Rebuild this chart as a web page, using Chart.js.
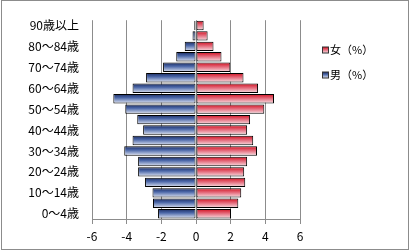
<!DOCTYPE html>
<html><head><meta charset="utf-8">
<script src="https://cdn.jsdelivr.net/npm/chart.js@4"></script>
<style>html,body{margin:0;padding:0;background:#fff}#w{width:410px;height:252px}</style>
</head><body><div id="w"><canvas id="c" width="410" height="252"></canvas></div>
<script>
const categories = ['0～4歳','5～9歳','10～14歳','15～19歳','20～24歳','25～29歳','30～34歳','35～39歳','40～44歳','45～49歳','50～54歳','55～59歳','60～64歳','65～69歳','70～74歳','75～79歳','80～84歳','85～89歳','90歳以上'];
const femaleValues = [2.02, 2.44, 2.61, 2.84, 2.78, 2.95, 3.52, 3.30, 2.95, 3.12, 3.94, 4.50, 3.58, 2.74, 1.98, 1.47, 1.01, 0.67, 0.44];
const maleValues = [2.19, 2.48, 2.51, 2.94, 3.34, 3.34, 4.14, 3.66, 3.05, 3.39, 4.08, 4.77, 3.66, 2.88, 1.90, 1.14, 0.65, 0.20, 0.10];
const xTicks = [-6, -4, -2, 0, 2, 4, 6];
const seriesNames = ['女（%）', '男（%）'];

const FONT = '"Noto Sans CJK JP", "Noto Sans", sans-serif';
const femaleStops = [[0,'#d10f1f'],[0.45,'#e4697a'],[1,'#f8e2e6']];
const maleStops = [[0,'#1b2b60'],[0.4,'#4b67a8'],[1,'#e2e7f4']];

function grad(stops, solid) {
  return function(ctx) {
    const chart = ctx.chart;
    if (!chart.chartArea || ctx.dataIndex === undefined || !chart.scales.y) return solid;
    const y = chart.scales.y;
    const yc = y.getPixelForValue(ctx.dataIndex);
    const h = chart.chartArea.height / categories.length * 0.9;
    const g = chart.ctx.createLinearGradient(0, yc - h/2, 0, yc + h/2);
    stops.forEach(s => g.addColorStop(s[0], s[1]));
    return g;
  };
}

const extras = {
  id: 'extras',
  afterDraw(chart) {
    const c = chart.ctx;
    c.save();
    // legend
    const items = [[seriesNames[0], femaleStops, 50], [seriesNames[1], maleStops, 75]];
    items.forEach(([txt, stops, yc]) => {
      const g = c.createLinearGradient(0, yc - 3, 0, yc + 3);
      stops.forEach(s => g.addColorStop(s[0], s[1]));
      c.fillStyle = g;
      c.fillRect(322.5, yc - 3, 6, 6);
      c.strokeStyle = '#333';
      c.lineWidth = 1;
      c.strokeRect(322.5, yc - 3, 6, 6);
      c.fillStyle = '#000';
      c.font = '11px ' + FONT;
      c.textBaseline = 'middle';
      c.textAlign = 'left';
      c.fillText(txt, 330, yc);
    });
    // outer border
    c.strokeStyle = '#8c8c8c';
    c.lineWidth = 1;
    c.strokeRect(1.5, 0.5, 407, 249);
    c.restore();
  }
};

new Chart(document.getElementById('c'), {
  type: 'bar',
  data: {
    labels: categories,
    datasets: [
      { label: seriesNames[0], data: femaleValues, backgroundColor: grad(femaleStops, '#e4697a'),
        borderColor: '#000', borderWidth: 1, borderSkipped: false, barPercentage: 0.9, categoryPercentage: 1 },
      { label: seriesNames[1], data: maleValues.map(v => -v), backgroundColor: grad(maleStops, '#4b67a8'),
        borderColor: '#000', borderWidth: 1, borderSkipped: false, barPercentage: 0.9, categoryPercentage: 1 }
    ]
  },
  options: {
    indexAxis: 'y',
    responsive: false,
    animation: false,
    devicePixelRatio: 1,
    layout: { padding: { top: 12, right: 110, left: 0, bottom: 0 } },
    plugins: { legend: { display: false }, tooltip: { enabled: false } },
    scales: {
      x: {
        stacked: true, min: -6, max: 6,
        afterBuildTicks: axis => { axis.ticks = xTicks.map(v => ({ value: v })); },
        afterFit: axis => { axis.height = 33; },
        grid: { color: '#8c8c8c', lineWidth: 1, drawTicks: true, tickLength: 5, tickColor: '#8c8c8c' },
        border: { display: true, color: '#8c8c8c' },
        ticks: { color: '#000', font: { family: FONT, size: 12 }, padding: 5, maxRotation: 0 }
      },
      y: {
        stacked: true, reverse: true,
        afterFit: axis => { axis.width = 92; },
        grid: { display: false, drawTicks: false },
        border: { display: false },
        ticks: { color: '#000', font: { family: FONT, size: 12 }, padding: 13, autoSkip: false,
          callback: function(v, i) { return i % 2 === 0 ? categories[i] : ''; } }
      }
    }
  },
  plugins: [extras]
});
</script></body></html>
